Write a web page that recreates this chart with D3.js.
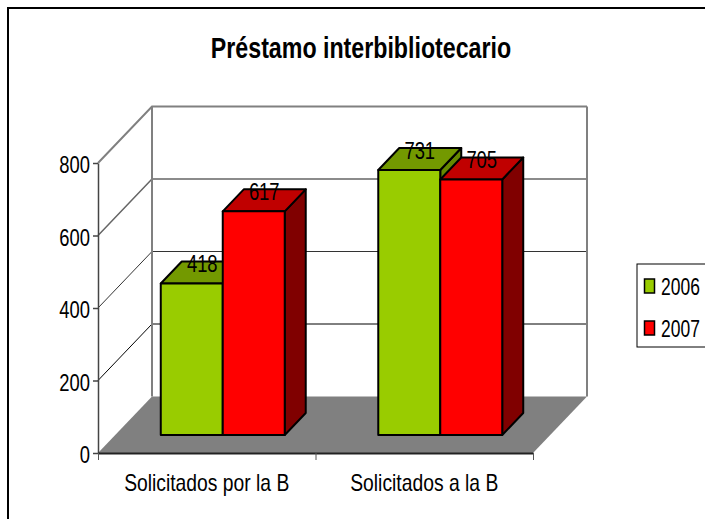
<!DOCTYPE html>
<html>
<head>
<meta charset="utf-8">
<script src="https://cdn.jsdelivr.net/npm/d3@7"></script>
<style>
    body { margin: 0; background: #fff; }
    text { font-family: "Liberation Sans", Arial, sans-serif; fill: #000; }
</style>
</head>
<body>
<div id="chart"></div>
<script>
var categories = ["Solicitados por la B", "Solicitados a la B"];
var years = ["2006", "2007"];
var values2006 = [418, 731];
var values2007 = [617, 705];
var yTicks = [0, 200, 400, 600, 800];
var title = "Préstamo interbibliotecario";

function init() {
    var w = 705;
    var h = 519;

    // the original is squeezed horizontally, so text gets narrowed too
    var squeeze = 0.8;

    var wallDx = 54, wallDy = 56.5;   // depth of the floor
    var barDx = 21, barDy = 22;       // depth of one bar
    var gapDx = 16, gapDy = 18;       // bars stand a bit inside the floor

    var x0 = d3.scaleBand().domain(categories).range([98, 533])
                .paddingInner(0.43).paddingOuter(0.215);
    var x1 = d3.scaleBand().domain(years).range([0, x0.bandwidth()]);
    var xTicks = d3.scalePoint().domain(d3.range(categories.length + 1)).range([98, 533]);
    var y = d3.scaleLinear().domain([0, 800]).range([453, 163]);

    var svg = d3.select("#chart")
                .append("svg")
                .attr("width", w)
                .attr("height", h)
                .style("display", "block");

    // scale around the text's own x so the anchor stays put
    function narrow(sel, k) {
        sel.each(function() {
            var px = +this.getAttribute("x") || 0;
            d3.select(this).attr("transform",
                "translate(" + px + ",0) scale(" + (k || squeeze) + ",1) translate(" + (-px) + ",0)");
        });
    }

    // outer frame, runs off the right and bottom of the picture
    svg.append("rect")
        .attr("x", 8).attr("y", 8)
        .attr("width", w + 10).attr("height", h + 10)
        .attr("fill", "#fff").attr("stroke", "#000").attr("stroke-width", 2);

    svg.append("text")
        .attr("x", 361).attr("y", 58)
        .attr("text-anchor", "middle")
        .attr("font-size", 29)
        .attr("font-weight", "bold")
        .text(title)
        .call(narrow);

    // floor
    var x00 = x0.range()[0], x01 = x0.range()[1];
    svg.append("polygon")
        .attr("points", [
            [x00, y(0)], [x01, y(0)],
            [x01 + wallDx, y(0) - wallDy], [x00 + wallDx, y(0) - wallDy]
        ].join(" "))
        .attr("fill", "#808080");

    // gridlines along left wall and back wall
    var gridColor = d3.scaleOrdinal().domain(yTicks).range(["#000", "#000", "#333", "#666", "#808080"]);
    var gridWidth = d3.scaleOrdinal().domain(yTicks).range([1, 1, 1, 1.5, 2]);

    var grid = svg.append("g").selectAll("g")
        .data(yTicks.filter(function(d) { return d > 0; }))
        .enter().append("g")
        .attr("fill", "none")
        .attr("stroke", function(d) { return gridColor(d); })
        .attr("stroke-width", function(d) { return gridWidth(d); });

    grid.append("polyline")
        .attr("points", function(d) {
            return [[x00, y(d)], [x00 + wallDx, y(d) - wallDy], [x01 + wallDx, y(d) - wallDy]].join(" ");
        });

    // back wall edges
    [x00 + wallDx, x01 + wallDx].forEach(function(px) {
        svg.append("line")
            .attr("x1", px).attr("x2", px)
            .attr("y1", y(800) - wallDy).attr("y2", y(0) - wallDy)
            .attr("stroke", "#808080").attr("stroke-width", 2);
    });

    // axes
    var yAxis = svg.append("g")
        .attr("transform", "translate(" + x00 + ",0)")
        .call(d3.axisLeft(y).tickValues(yTicks).tickSize(5).tickSizeOuter(0).tickPadding(3));
    yAxis.selectAll("text")
        .attr("font-size", 23)
        .attr("dy", "0.42em")
        .call(narrow);
    yAxis.selectAll("line, path").attr("stroke", "#444").attr("stroke-width", 1.5);

    var xAxis = svg.append("g")
        .attr("transform", "translate(0," + y(0) + ")")
        .call(d3.axisBottom(xTicks).tickSize(7).tickSizeOuter(0).tickFormat(""));
    xAxis.select("path").attr("stroke", "#222").attr("stroke-width", 2);
    xAxis.selectAll("line").attr("stroke", "#555").attr("stroke-width", 1);

    svg.append("g").selectAll("text")
        .data(categories)
        .enter().append("text")
        .attr("x", function(d) { return x0(d) + x0.bandwidth() / 2; })
        .attr("y", 491)
        .attr("text-anchor", "middle")
        .attr("font-size", 23)
        .text(function(d) { return d; })
        .call(narrow, 0.84);

    // bars, 3 faces each
    var colors = {
        "2006": { front: "#99cc00", top: "#739900", side: "#668800" },
        "2007": { front: "#ff0000", top: "#c00000", side: "#800000" }
    };

    var rows = [];
    categories.forEach(function(c, i) {
        rows.push({ cat: c, year: "2006", value: values2006[i] });
        rows.push({ cat: c, year: "2007", value: values2007[i] });
    });

    var bars = svg.append("g").selectAll("g")
        .data(rows)
        .enter().append("g")
        .attr("stroke", "#000")
        .attr("stroke-width", 2)
        .attr("stroke-linejoin", "round");

    function left(d) { return x0(d.cat) + x1(d.year) + gapDx; }
    function right(d) { return left(d) + x1.bandwidth(); }
    function top(d) { return y(d.value) - gapDy; }
    var bottom = y(0) - gapDy;

    bars.append("polygon")
        .attr("fill", function(d) { return colors[d.year].side; })
        .attr("points", function(d) {
            return [[right(d), bottom], [right(d) + barDx, bottom - barDy],
                    [right(d) + barDx, top(d) - barDy], [right(d), top(d)]].join(" ");
        });

    bars.append("polygon")
        .attr("fill", function(d) { return colors[d.year].top; })
        .attr("points", function(d) {
            return [[left(d), top(d)], [right(d), top(d)],
                    [right(d) + barDx, top(d) - barDy], [left(d) + barDx, top(d) - barDy]].join(" ");
        });

    bars.append("rect")
        .attr("fill", function(d) { return colors[d.year].front; })
        .attr("x", left)
        .attr("y", top)
        .attr("width", x1.bandwidth())
        .attr("height", function(d) { return bottom - top(d); });

    // value labels sit in the middle of the top face
    svg.append("g").selectAll("text")
        .data(rows)
        .enter().append("text")
        .attr("x", function(d) { return left(d) + x1.bandwidth() / 2 + barDx / 2; })
        .attr("y", function(d) { return top(d) - barDy / 2; })
        .attr("text-anchor", "middle")
        .attr("font-size", 23)
        .text(function(d) { return d.value; })
        .call(narrow);

    // legend
    var legend = svg.append("g");
    legend.append("rect")
        .attr("x", 637).attr("y", 264)
        .attr("width", 80).attr("height", 83)
        .attr("fill", "#fff").attr("stroke", "#000").attr("stroke-width", 1);

    var legendY = d3.scalePoint().domain(years).range([286, 328]);

    var items = legend.selectAll("g")
        .data(years)
        .enter().append("g");

    items.append("rect")
        .attr("x", 644.5)
        .attr("y", function(d) { return legendY(d) - 7; })
        .attr("width", 10).attr("height", 14)
        .attr("fill", function(d) { return colors[d].front; })
        .attr("stroke", "#000").attr("stroke-width", 1.5);

    items.append("text")
        .attr("x", 661)
        .attr("y", function(d) { return legendY(d) + 9.5; })
        .attr("font-size", 23)
        .text(function(d) { return d; })
        .call(narrow, 0.76);
}

window.onload = init;
</script>
</body>
</html>
